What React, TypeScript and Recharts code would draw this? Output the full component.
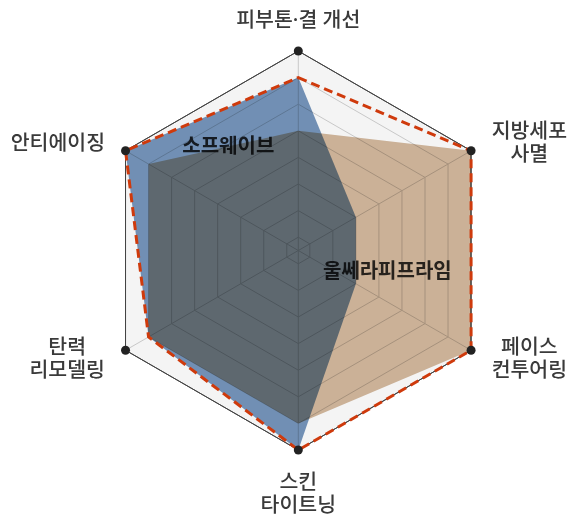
import React from 'react';
import { RadarChart, Radar, PolarGrid, PolarAngleAxis, PolarRadiusAxis, Customized } from 'recharts';

const axisLabels = ['피부톤·결 개선', '지방세포\n사멸', '페이스\n컨투어링', '스킨\n타이트닝', '탄력\n리모델링', '안티에이징'];
const sofwaveValues = [13, 5, 5, 15, 13, 15];
const ultheraValues = [9, 15, 15, 13, 13, 13];
const bestValues = [13, 15, 15, 15, 13, 15];
const ringTicks = [1, 3, 5, 7, 9, 11, 13];
const scaleMax = 15;
const seriesNames = ['소프웨이브', '울쎄라피프라임'];

const data = axisLabels.map((a, i) => ({
  axis: a,
  sofwave: sofwaveValues[i],
  ulthera: ultheraValues[i],
  best: bestValues[i],
}));

const W = 580;
const H = 525;
const CX = 298.3;
const CY = 250.5;
const R = 199.5;
const FONT = '"Noto Sans", "Noto Sans CJK KR", sans-serif';
const FS = 20.5;
const LH = 23;

function AxisTick(props: any) {
  const { payload } = props;
  const ang = (payload.coordinate * Math.PI) / 180;
  const cosA = Math.cos(ang);
  const sinA = Math.sin(ang);
  const vx = CX + R * cosA;
  const vy = CY - R * sinA;
  const lines = String(payload.value).split('\n');
  let x: number;
  let yc: number;
  if (Math.abs(cosA) < 0.01) {
    x = vx;
    yc = sinA > 0 ? vy - 32 : vy + 42;
  } else {
    const width = Math.max(...lines.map((l) => l.length)) * FS * 0.91;
    x = vx + Math.sign(cosA) * (21 + width / 2);
    yc = vy + (sinA > 0 ? -9 : 7);
  }
  const y0 = yc - ((lines.length - 1) * LH) / 2;
  return (
    <g>
      <circle cx={vx} cy={vy} r={4.5} fill="#222" />
      {lines.map((l, i) => (
        <text
          key={i}
          x={x}
          y={y0 + i * LH}
          textAnchor="middle"
          dominantBaseline="central"
          fontSize={FS}
          fontWeight={500}
          fontFamily={FONT}
          fill="#3a3a3a"
        >
          {l}
        </text>
      ))}
    </g>
  );
}

function SeriesLabels() {
  return (
    <g fontFamily={FONT} fontSize={20} fontWeight={700} fill="#2e2e2e">
      <text x={CX - 70} y={CY - 105.5} textAnchor="middle" dominantBaseline="central">
        {seriesNames[0]}
      </text>
      <text x={CX + 89} y={CY + 19.5} textAnchor="middle" dominantBaseline="central">
        {seriesNames[1]}
      </text>
    </g>
  );
}

export default function App() {
  const innerRadii = ringTicks.map((t) => (t / scaleMax) * R);
  return (
    <div style={{ position: 'absolute', left: 0, top: 0, width: W, height: H, background: '#fff' }}>
      <RadarChart
        width={W}
        height={H}
        cx={CX}
        cy={CY}
        outerRadius={R}
        data={data}
        margin={{ top: 0, right: 0, bottom: 0, left: 0 }}
      >
        <PolarGrid polarRadius={[R]} radialLines={false} stroke="#444" strokeWidth={1} fill="#f4f4f4" fillOpacity={1} />
        <PolarGrid polarRadius={innerRadii} radialLines={true} stroke="#c8c8c8" strokeWidth={1} />
        <PolarRadiusAxis domain={[0, scaleMax]} tickCount={16} tick={false} axisLine={false} allowDataOverflow />
        <PolarAngleAxis dataKey="axis" tick={<AxisTick />} tickLine={false} axisLine={false} />
        <Radar
          dataKey="ulthera"
          fill="#d4b99e"
          fillOpacity={1}
          stroke="none"
          isAnimationActive={false}
          style={{ mixBlendMode: 'multiply' }}
        />
        <Radar
          dataKey="sofwave"
          fill="#7696bc"
          fillOpacity={1}
          stroke="none"
          isAnimationActive={false}
          style={{ mixBlendMode: 'multiply' }}
        />
        <Radar
          dataKey="best"
          fill="none"
          fillOpacity={0}
          stroke="#cf3a0c"
          strokeWidth={3}
          strokeDasharray="9 5"
          isAnimationActive={false}
        />
        <Customized component={SeriesLabels} />
      </RadarChart>
    </div>
  );
}
